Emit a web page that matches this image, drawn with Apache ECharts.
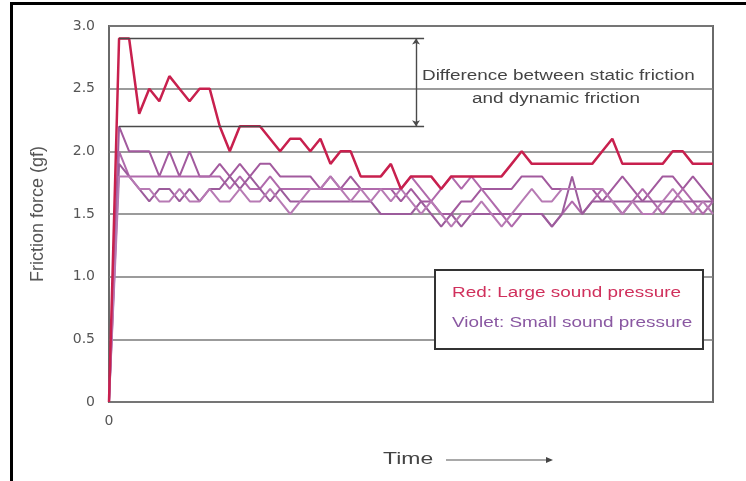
<!DOCTYPE html>
<html>
<head>
<meta charset="utf-8">
<script src="https://cdn.jsdelivr.net/npm/echarts@6/dist/echarts.min.js"></script>
<style>
  html, body { margin: 0; padding: 0; background: #fff; }
  #chart { width: 746px; height: 481px; }
</style>
</head>
<body>
<div id="chart"></div>
<script>
// Friction force (gf) sampled over time, one value per time step
const redLarge = [0, 2.9, 2.9, 2.3, 2.5, 2.4, 2.6, 2.5, 2.4, 2.5, 2.5, 2.2, 2.0, 2.2, 2.2, 2.2, 2.1, 2.0, 2.1, 2.1,
  2.0, 2.1, 1.9, 2.0, 2.0, 1.8, 1.8, 1.8, 1.9, 1.7, 1.8, 1.8, 1.8, 1.7, 1.8, 1.8, 1.8, 1.8, 1.8, 1.8,
  1.9, 2.0, 1.9, 1.9, 1.9, 1.9, 1.9, 1.9, 1.9, 2.0, 2.1, 1.9, 1.9, 1.9, 1.9, 1.9, 2.0, 2.0, 1.9, 1.9, 1.9];

const violetA = [0, 2.2, 2.0, 2.0, 2.0, 1.8, 2.0, 1.8, 2.0, 1.8, 1.8, 1.9, 1.8, 1.9, 1.8, 1.9, 1.9, 1.8, 1.8, 1.8,
  1.8, 1.7, 1.8, 1.7, 1.8, 1.7, 1.7, 1.7, 1.7, 1.6, 1.7, 1.6, 1.6, 1.5, 1.5, 1.6, 1.6, 1.7, 1.7, 1.7,
  1.7, 1.8, 1.8, 1.8, 1.7, 1.7, 1.7, 1.7, 1.7, 1.6, 1.7, 1.8, 1.7, 1.6, 1.7, 1.8, 1.8, 1.7, 1.8, 1.7, 1.6];
const violetB = [0, 2.0, 1.8, 1.8, 1.8, 1.8, 1.8, 1.8, 1.8, 1.8, 1.8, 1.8, 1.7, 1.8, 1.7, 1.7, 1.8, 1.7, 1.7, 1.7,
  1.7, 1.7, 1.7, 1.7, 1.7, 1.7, 1.7, 1.7, 1.7, 1.7, 1.8, 1.7, 1.6, 1.7, 1.8, 1.7, 1.8, 1.7, 1.6, 1.5,
  1.4, 1.5, 1.5, 1.5, 1.4, 1.5, 1.6, 1.5, 1.6, 1.7, 1.6, 1.5, 1.6, 1.7, 1.6, 1.5, 1.6, 1.7, 1.6, 1.5, 1.6];
const violetC = [0, 1.9, 1.8, 1.7, 1.6, 1.7, 1.7, 1.6, 1.7, 1.6, 1.7, 1.7, 1.8, 1.7, 1.8, 1.7, 1.6, 1.7, 1.6, 1.6,
  1.6, 1.6, 1.6, 1.6, 1.6, 1.6, 1.6, 1.5, 1.5, 1.5, 1.5, 1.6, 1.5, 1.4, 1.5, 1.4, 1.5, 1.5, 1.5, 1.5,
  1.5, 1.5, 1.5, 1.5, 1.4, 1.5, 1.8, 1.5, 1.6, 1.6, 1.6, 1.6, 1.6, 1.6, 1.6, 1.6, 1.6, 1.6, 1.6, 1.6, 1.6];
const violetD = [0, 1.8, 1.8, 1.7, 1.7, 1.6, 1.6, 1.7, 1.6, 1.6, 1.7, 1.6, 1.6, 1.7, 1.6, 1.6, 1.7, 1.6, 1.5, 1.6,
  1.7, 1.7, 1.8, 1.7, 1.6, 1.7, 1.6, 1.7, 1.6, 1.7, 1.6, 1.5, 1.6, 1.5, 1.4, 1.5, 1.5, 1.6, 1.5, 1.4,
  1.5, 1.6, 1.7, 1.6, 1.6, 1.7, 1.7, 1.7, 1.7, 1.7, 1.6, 1.5, 1.6, 1.5, 1.5, 1.6, 1.7, 1.6, 1.5, 1.6, 1.5];

const yTicks = [0, 0.5, 1.0, 1.5, 2.0, 2.5, 3.0];
const yTickLabels = ['0', '0.5', '1.0', '1.5', '2.0', '2.5', '3.0'];

// Static friction peak and dynamic friction level marked by the annotation
const staticLevel = 2.9;
const dynamicLevel = 2.2;
const annotStart = 1;
const annotEnd = 31.3;
const arrowAt = 30.5;

const lastStep = redLarge.length - 1;
const toPairs = arr => arr.map((v, i) => [i, v]);

const RED = '#c8204e';
const VIOLETS = ['#a25a9e', '#b06aac', '#9c5c9c', '#b77ab4'];
const TEXT_FONT = 'Liberation Sans';
const WIDE = 1.35; // horizontal stretch of the caption lettering

const chart = echarts.init(document.getElementById('chart'), null, { renderer: 'canvas' });

const violetSeries = [violetA, violetB, violetC, violetD].map((arr, k) => ({
  type: 'line',
  data: toPairs(arr),
  symbol: 'none',
  z: 2,
  lineStyle: { color: VIOLETS[k], width: 2 },
  animation: false
}));

function caption(text, x, y, size, color) {
  return {
    type: 'text', x: x, y: y, scaleX: WIDE, scaleY: 1, z: 11,
    style: { text: text, x: 0, y: 0, fill: color, fontSize: size, fontFamily: TEXT_FONT, verticalAlign: 'top', align: 'left' }
  };
}

chart.setOption({
  animation: false,
  backgroundColor: '#fff',
  grid: { left: 109, right: 33, top: 26, bottom: 79, show: true, borderColor: '#6a6a6a', borderWidth: 2, backgroundColor: 'transparent' },
  xAxis: {
    type: 'value', min: 0, max: lastStep, interval: lastStep,
    axisLine: { show: false }, axisTick: { show: false }, splitLine: { show: false },
    axisLabel: {
      color: '#555', fontSize: 14, fontFamily: 'DejaVu Sans', margin: 12,
      formatter: v => (v === 0 ? '0' : '')
    }
  },
  yAxis: {
    type: 'value', min: 0, max: 3, interval: 0.5,
    name: 'Friction force (gf)', nameLocation: 'middle', nameGap: 62, nameRotate: 90,
    nameTextStyle: { color: '#555', fontSize: 18, fontFamily: TEXT_FONT },
    axisLine: { show: false }, axisTick: { show: false },
    splitLine: { lineStyle: { color: '#7a7a7a', width: 1.5 } },
    axisLabel: {
      color: '#555', fontSize: 14, fontFamily: 'DejaVu Sans', margin: 14,
      formatter: v => { const i = yTicks.findIndex(t => Math.abs(t - v) < 1e-9); return i >= 0 ? yTickLabels[i] : ''; }
    }
  },
  series: [
    ...violetSeries,
    {
      type: 'line',
      data: toPairs(redLarge),
      symbol: 'none',
      z: 3,
      lineStyle: { color: RED, width: 2.5 },
      markLine: {
        silent: true,
        symbol: 'none',
        label: { show: false },
        lineStyle: { color: '#4a4a4a', width: 1.4, type: 'solid' },
        data: [
          [{ coord: [annotStart, staticLevel] }, { coord: [annotEnd, staticLevel] }],
          [{ coord: [annotStart, dynamicLevel] }, { coord: [annotEnd, dynamicLevel] }],
          [{ coord: [arrowAt, staticLevel], symbol: 'arrow', symbolSize: 6 },
           { coord: [arrowAt, dynamicLevel], symbol: 'arrow', symbolSize: 6 }]
        ]
      }
    }
  ],
  graphic: [
    // outer frame (top and left edges)
    { type: 'rect', shape: { x: 11.5, y: 3.5, width: 800, height: 600 }, style: { fill: 'none', stroke: '#000', lineWidth: 3 }, z: 10 },
    caption('Difference between static friction', 422, 69, 14, '#444'),
    caption('and dynamic friction', 472, 92, 14, '#444'),
    // legend box
    { type: 'rect', shape: { x: 435, y: 270, width: 268, height: 79 }, style: { fill: '#fff', stroke: '#333', lineWidth: 2 }, z: 10 },
    caption('Red: Large sound pressure', 452, 286, 14, '#d0305c'),
    caption('Violet: Small sound pressure', 452, 316, 14, '#8a58a2'),
    // time axis caption with arrow
    caption('Time', 383, 451, 17, '#444'),
    { type: 'line', shape: { x1: 446, y1: 460, x2: 548, y2: 460 }, style: { stroke: '#555', lineWidth: 1.2 }, z: 10 },
    { type: 'polygon', shape: { points: [[553, 460], [546, 457], [546, 463]] }, style: { fill: '#444' }, z: 10 }
  ]
});
</script>
</body>
</html>
